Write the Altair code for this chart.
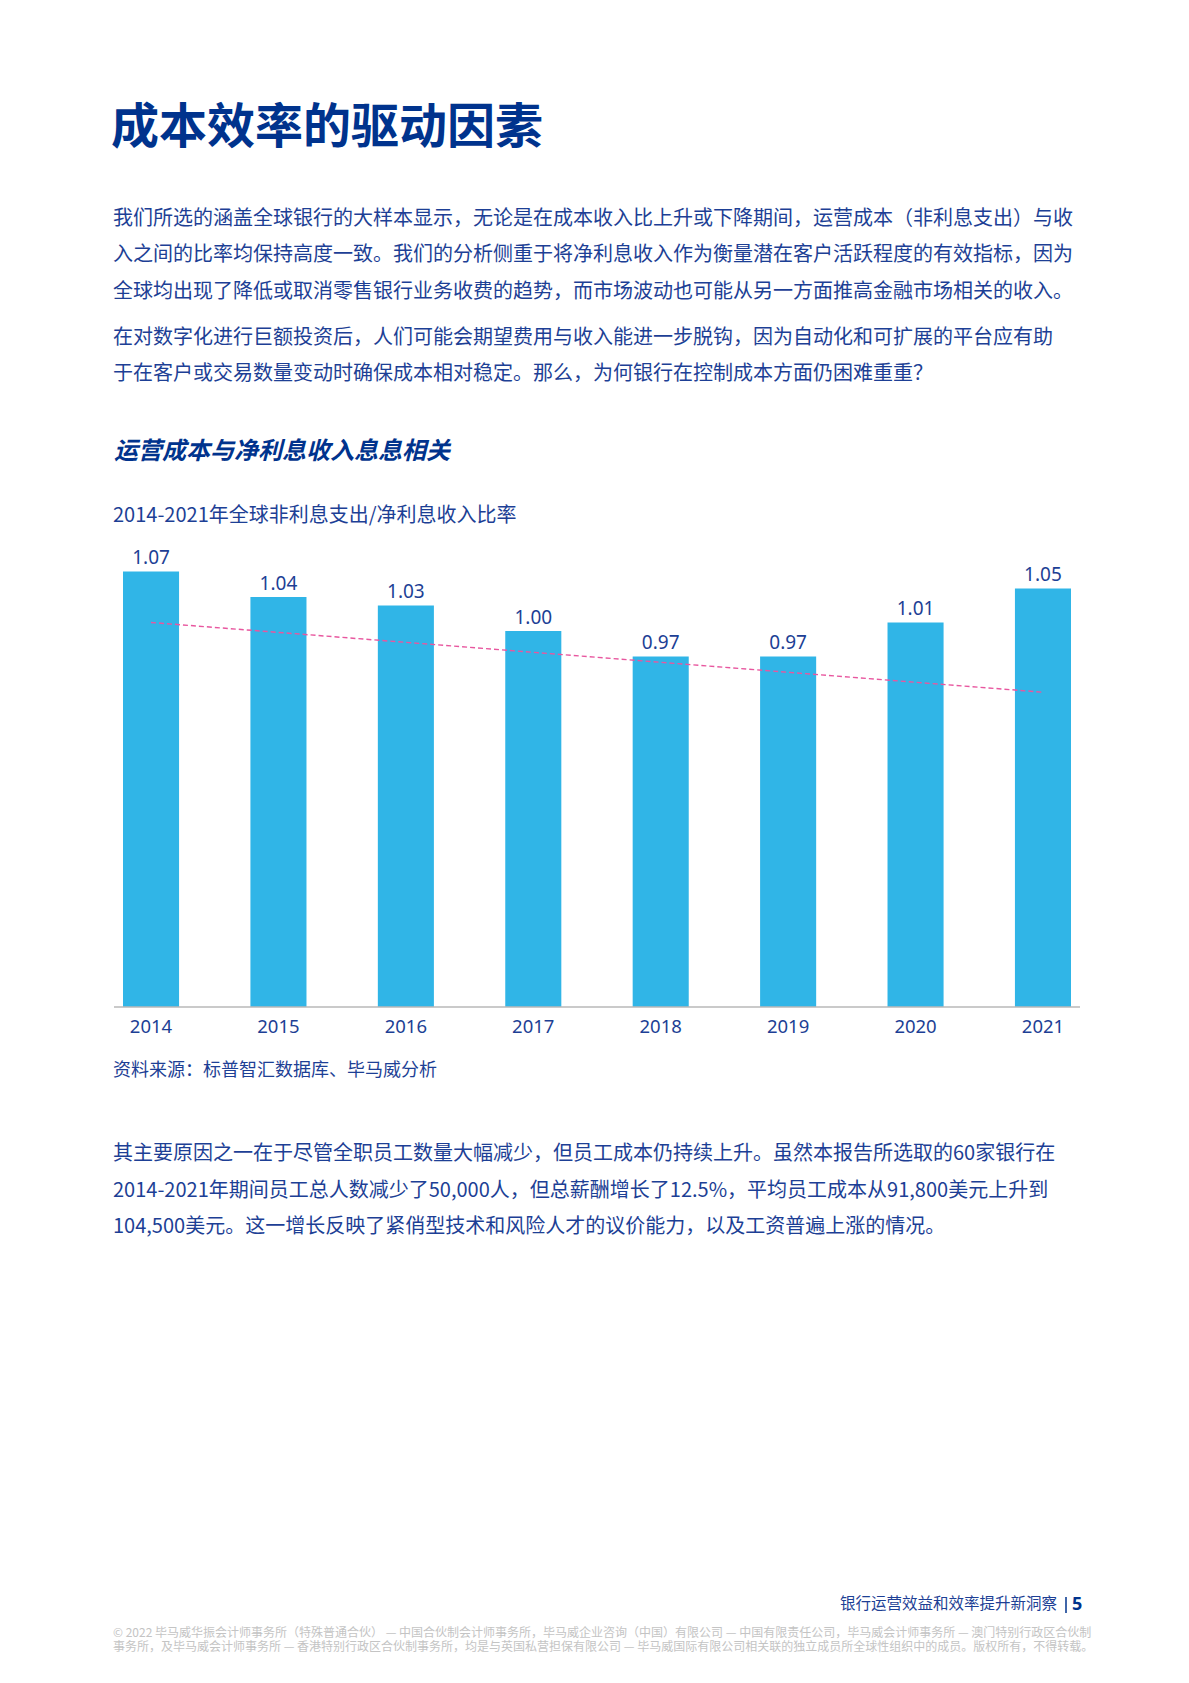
import altair as alt
import pandas as pd

# chart values
YEARS = ["2014", "2015", "2016", "2017", "2018", "2019", "2020", "2021"]
RATIOS = [1.07, 1.04, 1.03, 1.00, 0.97, 0.97, 1.01, 1.05]
TREND_YEARS = ["2014", "2021"]
TREND_RATIOS = [1.01, 0.928]
Y_MIN, Y_MAX = 0.558, 1.07

TITLE = ["成本效率的驱动因素"]
PARA1 = [
    "我们所选的涵盖全球银行的大样本显示，无论是在成本收入比上升或下降期间，运营成本（非利息支出）与收",
    "入之间的比率均保持高度一致。我们的分析侧重于将净利息收入作为衡量潜在客户活跃程度的有效指标，因为",
    "全球均出现了降低或取消零售银行业务收费的趋势，而市场波动也可能从另一方面推高金融市场相关的收入。",
]
PARA2 = [
    "在对数字化进行巨额投资后，人们可能会期望费用与收入能进一步脱钩，因为自动化和可扩展的平台应有助",
    "于在客户或交易数量变动时确保成本相对稳定。那么，为何银行在控制成本方面仍困难重重？",
]
SUBTITLE = ["运营成本与净利息收入息息相关"]
CHART_TITLE = ["2014-2021年全球非利息支出/净利息收入比率"]
SOURCE = ["资料来源：标普智汇数据库、毕马威分析"]
PARA3 = [
    "其主要原因之一在于尽管全职员工数量大幅减少，但员工成本仍持续上升。虽然本报告所选取的60家银行在",
    "2014-2021年期间员工总人数减少了50,000人，但总薪酬增长了12.5%，平均员工成本从91,800美元上升到",
    "104,500美元。这一增长反映了紧俏型技术和风险人才的议价能力，以及工资普遍上涨的情况。",
]
FOOTER_TITLE = ["银行运营效益和效率提升新洞察"]
PAGE_NO = ["5"]
FOOTER_NOTE = [
    "© 2022 毕马威华振会计师事务所（特殊普通合伙） — 中国合伙制会计师事务所，毕马威企业咨询（中国）有限公司 — 中国有限责任公司，毕马威会计师事务所 — 澳门特别行政区合伙制",
    "事务所，及毕马威会计师事务所 — 香港特别行政区合伙制事务所，均是与英国私营担保有限公司 — 毕马威国际有限公司相关联的独立成员所全球性组织中的成员。版权所有，不得转载。",
]

NAVY = "#00338D"
TEXT = "#1d3f95"
BLUE = "#30b5e7"
PINK = "#e8579f"
GREY = "#c4c4c4"
CJK = "Noto Sans CJK SC"

bars_df = pd.DataFrame({"year": YEARS, "ratio": RATIOS})
trend_df = pd.DataFrame({"year": TREND_YEARS, "ratio": TREND_RATIOS})
one = pd.DataFrame({"k": [0]})

x_scale = alt.Scale(domain=YEARS, range=[115, 1063], paddingInner=0.56, paddingOuter=0)
y_scale = alt.Scale(domain=[Y_MIN, Y_MAX], range=[999, 563.4], zero=False, nice=False)
x_enc = alt.X("year:N", scale=x_scale, axis=None)
y_enc = alt.Y("ratio:Q", scale=y_scale, axis=None)


def text_block(lines, x, y, size, color, weight="normal", style="normal",
               align="left", font=CJK, line_height=None):
    return alt.Chart(one).mark_text(
        align=align, baseline="alphabetic", font=font, fontSize=size,
        fontWeight=weight, fontStyle=style, color=color,
        lineHeight=line_height or size * 1.2,
    ).encode(x=alt.value(x), y=alt.value(y), text=alt.value(lines))


bars = alt.Chart(bars_df).mark_bar(color=BLUE).encode(
    x=x_enc, y=y_enc, y2=alt.datum(Y_MIN)
)
bar_labels = alt.Chart(bars_df).mark_text(
    font="Noto Sans", fontSize=19, color=TEXT, baseline="alphabetic", dy=-7
).encode(x=x_enc, y=y_enc, text=alt.Text("ratio:Q", format=".2f"))
trend = alt.Chart(trend_df).mark_line(
    color=PINK, strokeWidth=1.4, strokeDash=[5, 3]
).encode(x=x_enc, y=y_enc)
baseline = alt.Chart(one).mark_rule(color="#b9b9b9", strokeWidth=1.5).encode(
    x=alt.value(106), x2=alt.value(1072), y=alt.value(999)
)
year_labels = alt.Chart(bars_df).mark_text(
    font="Noto Sans", fontSize=18.5, color=TEXT, baseline="middle"
).encode(x=x_enc, y=alt.value(1019), text="year:N")
separator = alt.Chart(one).mark_rule(color=NAVY, strokeWidth=1.5).encode(
    x=alt.value(1058), y=alt.value(1589), y2=alt.value(1605)
)

chart = alt.layer(
    text_block(TITLE, 103, 135, 48, NAVY, weight="bold"),
    text_block(PARA1, 105, 216.6, 20, TEXT, line_height=36.5),
    text_block(PARA2, 105, 335.6, 20, TEXT, line_height=36.5),
    text_block(SUBTITLE, 106, 451, 24, NAVY, weight="bold", style="italic"),
    text_block(CHART_TITLE, 105, 513.6, 20, TEXT),
    bars,
    trend,
    baseline,
    bar_labels,
    year_labels,
    text_block(SOURCE, 105, 1068, 18, TEXT),
    text_block(PARA3, 105, 1152, 20, TEXT, line_height=36.5),
    text_block(FOOTER_TITLE, 1049, 1601, 15.5, TEXT, align="right"),
    separator,
    text_block(PAGE_NO, 1064, 1602, 18, NAVY, weight="bold", font="Noto Sans"),
    text_block(FOOTER_NOTE, 105, 1628.6, 12, GREY, line_height=14.5),
).properties(
    width=1173,
    height=1667,
    padding=0,
    autosize=alt.AutoSizeParams(type="none"),
    background="white",
).configure_view(stroke="transparent")

chart.save("out.html", embed_options={"renderer": "svg", "actions": False})
